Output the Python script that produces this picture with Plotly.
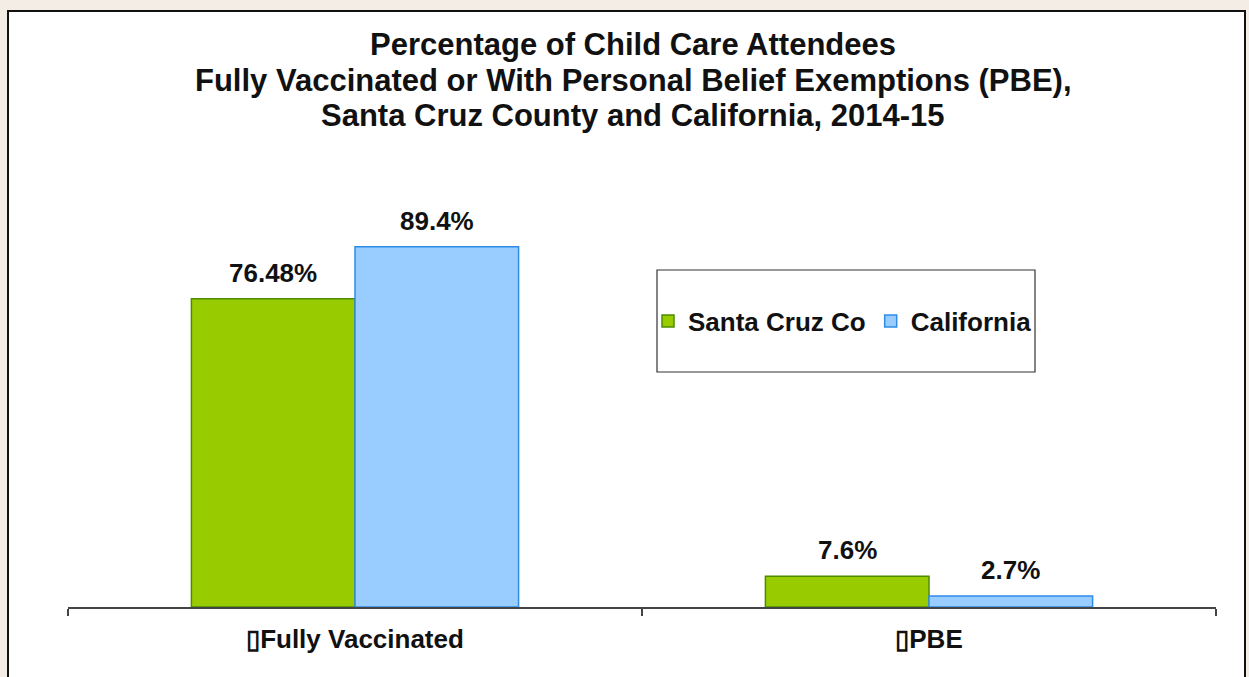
import plotly.graph_objects as go

categories = ["▯Fully Vaccinated", "▯PBE"]
santa_cruz = [76.48, 7.6]
california = [89.4, 2.7]
series_names = ["Santa Cruz Co", "California"]
title_lines = [
    "Percentage of Child Care Attendees",
    "Fully Vaccinated or With Personal Belief Exemptions (PBE),",
    "Santa Cruz County and California, 2014-15",
]

W, H = 1249, 677
L, R, T, B = 68, 1216, 204, 607  # plot area in px
FONT = "Liberation Sans, Arial, sans-serif"
BARGAP = 0.43

def px_x(px):
    return (px - L) / (R - L)

def px_y(py):
    return (B - py) / (B - T)

fig = go.Figure()
fig.add_trace(go.Bar(
    x=categories, y=santa_cruz, name=series_names[0],
    marker=dict(color="#99cc00", line=dict(color="#4d8c00", width=1.5)),
))
fig.add_trace(go.Bar(
    x=categories, y=california, name=series_names[1],
    marker=dict(color="#99ccff", line=dict(color="#2f8ce6", width=1.5)),
))

shapes = [
    dict(type="rect", xref="paper", yref="paper",
         x0=px_x(8), x1=px_x(1245), y0=px_y(700), y1=px_y(11),
         fillcolor="white", line=dict(color="#111", width=2), layer="below"),
    dict(type="rect", xref="paper", yref="paper",
         x0=px_x(657), x1=px_x(1035), y0=px_y(372), y1=px_y(270),
         fillcolor="rgba(0,0,0,0)", line=dict(color="#333", width=1.2)),
]

annotations = []
for i, line in enumerate(title_lines):
    annotations.append(dict(
        text=f"<b>{line}</b>", xref="paper", yref="paper",
        x=px_x(633), y=px_y(45 + i * 35.5), xanchor="center", yanchor="middle",
        showarrow=False, font=dict(family=FONT, size=31, color="#111"),
    ))

# data labels above bars (grouped: two bars per category)
half = (1 - BARGAP) / 4
for series, sign in ((santa_cruz, -1), (california, 1)):
    for i, v in enumerate(series):
        annotations.append(dict(
            text=f"<b>{v}%</b>", xref="x", yref="y",
            x=i + sign * half, y=v, xanchor="center", yanchor="middle",
            yshift=26, showarrow=False,
            font=dict(family=FONT, size=26, color="#111"),
        ))

fig.update_layout(
    width=W, height=H,
    margin=dict(l=L, r=W - R, t=T, b=H - B, pad=0),
    paper_bgcolor="#f4ede6", plot_bgcolor="rgba(0,0,0,0)",
    barmode="group", bargap=BARGAP, bargroupgap=0,
    font=dict(family=FONT, size=20, color="#111"),
    shapes=shapes, annotations=annotations,
    showlegend=True,
    legend=dict(
        orientation="h", x=px_x(648), y=px_y(321), xanchor="left", yanchor="middle",
        bgcolor="rgba(0,0,0,0)", borderwidth=0,
        font=dict(family=FONT, size=26, color="#111", weight="bold"),
    ),
    xaxis=dict(
        showline=True, linecolor="#444", linewidth=1.5,
        ticks="outside", tickson="boundaries", ticklen=7, tickcolor="#444", tickwidth=1.5,
        tickfont=dict(family=FONT, size=26, color="#111", weight="bold"),
        ticklabelstandoff=8,
        showgrid=False, zeroline=False,
    ),
    yaxis=dict(range=[0, 100], visible=False, showgrid=False, zeroline=False),
)

fig.write_html(
    "out.html",
    config={"displayModeBar": False},
    post_script="document.body.style.margin='0';document.body.style.overflow='hidden';",
)
